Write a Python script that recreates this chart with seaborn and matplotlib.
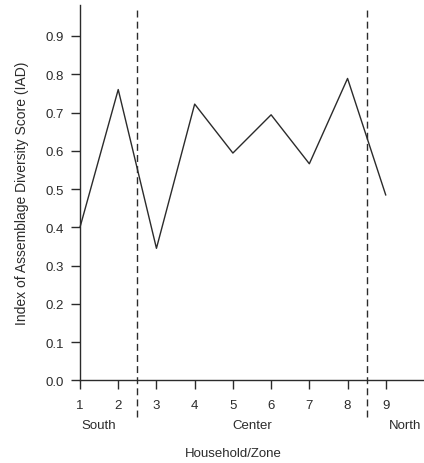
import matplotlib
matplotlib.use("Agg")
import matplotlib.pyplot as plt
import seaborn as sns
import pandas as pd

# Household index and assemblage diversity score
households = [1, 2, 3, 4, 5, 6, 7, 8, 9]
iad_scores = [0.40, 0.76, 0.345, 0.722, 0.594, 0.694, 0.566, 0.789, 0.484]

# Zones and their boundaries along the household axis
zone_names = ["South", "Center", "North"]
zone_centers = [1.5, 5.5, 9.5]
zone_boundaries = [2.5, 8.5]

y_ticks = [0.0, 0.1, 0.2, 0.3, 0.4, 0.5, 0.6, 0.7, 0.8, 0.9]

sns.set_style("white")
plt.rcParams["font.family"] = ["Liberation Sans", "DejaVu Sans"]
ink = "#2b2b2b"
fs = 9.5

df = pd.DataFrame({"household": households, "iad": iad_scores})

fig = plt.figure(figsize=(4.24, 4.64), dpi=100)
ax = fig.add_axes([80 / 424, 82.7 / 464, 344 / 424, 375.3 / 464])

sns.lineplot(data=df, x="household", y="iad", ax=ax, color=ink,
             linewidth=1.0, clip_on=False)

for xb in zone_boundaries:
    ax.plot([xb, xb], [-0.096, 0.971], color=ink, linewidth=1.0,
            linestyle=(0, (5, 3)), clip_on=False)

ax.set_xlim(1, 10)
ax.set_ylim(0, 0.981)
ax.set_xticks(households)
ax.set_xticklabels([str(h) for h in households])
ax.set_yticks(y_ticks)
ax.set_yticklabels([f"{v:.1f}" for v in y_ticks])

for side in ["top", "right"]:
    ax.spines[side].set_visible(False)
for side in ["left", "bottom"]:
    ax.spines[side].set_color(ink)
    ax.spines[side].set_linewidth(1.0)

ax.tick_params(axis="both", which="major", bottom=True, left=True,
               direction="out", length=6.5, width=1.0,
               color=ink, labelcolor=ink, labelsize=fs)
ax.tick_params(axis="y", pad=5)
ax.tick_params(axis="x", pad=7)

for name, xc in zip(zone_names, zone_centers):
    ax.text(xc, -0.117, name, ha="center", va="center", fontsize=fs,
            color=ink, clip_on=False)

ax.set_xlabel("")
ax.set_ylabel("Index of Assemblage Diversity Score (IAD)", fontsize=10,
              color=ink, labelpad=12)
ax.text(5.0, -0.19, "Household/Zone", ha="center", va="center",
        fontsize=fs, color=ink, clip_on=False)

fig.savefig("out.png", dpi=100)
